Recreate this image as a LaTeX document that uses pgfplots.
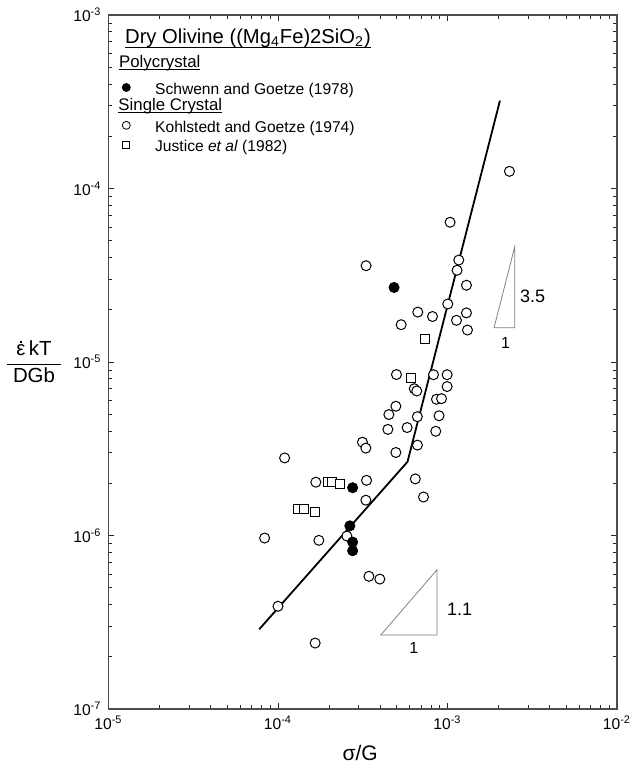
\documentclass[border=0pt]{standalone}
\usepackage{fontspec}
\setmainfont{Liberation Sans}
\usepackage{pgfplots}
\pgfplotsset{compat=1.18}
\pgfplotsset{legmark/.style={legend image code/.code={\path (0pt,-5pt) (20pt,5pt); \draw[##1] plot coordinates {(8.5pt,#1)};}}}
\newcommand\ul[2][1.2pt]{\setbox0=\hbox{#2}\rlap{\rule[-#1]{\wd0}{0.5pt}}\box0}
\begin{document}
\begin{tikzpicture}
\begin{axis}[
  at={(0pt,0pt)}, anchor=south west,
  scale only axis, width=254.25pt, height=347pt,
  xmode=log, ymode=log,
  xmin=1e-5, xmax=1e-2, ymin=1e-7, ymax=1e-3,
  log number format basis/.code 2 args={10\textsuperscript{\pgfmathprintnumber[assume math mode=true]{#2}}},
  tick align=inside,
  major tick length=3pt, minor tick length=1.8pt,
  tick style={black!85, line width=0.4pt},
  axis line style={black!70, line width=0.6pt},
  tick label style={font=\fontsize{7.8}{9}\selectfont},
  xlabel={σ/G},
  xlabel style={font=\fontsize{10.5}{12}\selectfont, at={(axis description cs:0.495,0)}, anchor=center, yshift=-22pt},
  ylabel={$\displaystyle\frac{\mbox{\ooalign{ε\cr\hidewidth\raisebox{0.6em}{\rule{0.12em}{0.12em}}\hidewidth\cr}\,kT}}{\mbox{\hspace{3pt}DGb\hspace{3pt}}}$},
  every axis y label/.style={at={(axis description cs:0,0.5)}, anchor=center, xshift=-37.25pt, font=\fontsize{10.2}{12}\selectfont},
  legend style={draw=none, fill=none, at={(axis description cs:0,1)}, anchor=north west,
    xshift=0pt, yshift=-5.85pt, font=\fontsize{7.8}{9}\selectfont,
    row sep=0pt, column sep=2.75pt, inner sep=0pt, nodes={inner sep=0pt}},
  legend cell align=left,
]
\addlegendimage{empty legend}
\addlegendentry{\rule[-2.5pt]{0pt}{10.5pt}\hspace*{-15pt}\smash{\fontsize{10.1}{11}\selectfont\ul[2.3pt]{Dry Olivine ((Mg\textsubscript{4}Fe)2SiO\textsubscript{2})}}}
\addlegendimage{empty legend}
\addlegendentry{\rule[-2.5pt]{0pt}{13pt}\hspace*{-18pt}\smash{\fontsize{8.4}{10}\selectfont\ul{Polycrystal}}}
\addlegendimage{mark=*, mark size=2pt, black, legmark=-1.9pt}
\addlegendentry{\rule[-2.5pt]{0pt}{14.6pt}Schwenn and Goetze (1978)}
\addlegendimage{empty legend}
\addlegendentry{\rule[-2.5pt]{0pt}{9.2pt}\hspace*{-18.35pt}\smash{\fontsize{8.4}{10}\selectfont\ul{Single Crystal}}}
\addlegendimage{mark=*, mark size=2pt, draw=black, fill=white, legmark=-0.45pt}
\addlegendentry{\rule[-2.5pt]{0pt}{11.7pt}Kohlstedt and Goetze (1974)}
\addlegendimage{mark=square, mark size=1.8pt, black, legmark=0.5pt}
\addlegendentry{\rule[-2.5pt]{0pt}{9.8pt}Justice \textit{et al} (1982)}

% fitted line
\addplot[black, line width=0.9pt, forget plot] coordinates {(7.75e-5,2.88e-7) (5.81e-4,2.66e-6) (2.04e-3,3.21e-4)};

% Kohlstedt and Goetze (1974)
\addplot[only marks, mark=*, mark size=2.5pt, mark options={draw=black, fill=white, line width=0.5pt}, forget plot] coordinates {
(2.32e-3,1.256e-4) (1.036e-3,6.39e-5) (3.31e-4,3.59e-5) (1.166e-3,3.87e-5) (1.139e-3,3.38e-5)
(1.294e-3,2.77e-5) (1.004e-3,2.16e-5) (6.68e-4,1.94e-5) (8.16e-4,1.83e-5) (1.294e-3,1.92e-5)
(1.130e-3,1.739e-5) (1.312e-3,1.529e-5) (5.33e-4,1.641e-5) (5.00e-4,8.47e-6) (8.27e-4,8.45e-6)
(9.95e-4,8.45e-6) (9.95e-4,7.22e-6) (6.37e-4,7.02e-6) (6.59e-4,6.81e-6) (8.61e-4,6.10e-6)
(9.22e-4,6.15e-6) (4.96e-4,5.56e-6) (4.51e-4,4.98e-6) (6.64e-4,4.84e-6) (8.92e-4,4.90e-6)
(4.45e-4,4.09e-6) (5.78e-4,4.19e-6) (8.53e-4,3.99e-6) (3.15e-4,3.45e-6) (3.30e-4,3.19e-6)
(6.65e-4,3.32e-6) (4.96e-4,3.01e-6) (1.094e-4,2.80e-6) (6.46e-4,2.12e-6) (3.33e-4,2.08e-6)
(1.673e-4,2.03e-6) (3.30e-4,1.598e-6) (7.22e-4,1.667e-6) (2.55e-4,9.93e-7) (8.34e-5,9.67e-7)
(1.743e-4,9.38e-7) (3.44e-4,5.82e-7) (3.99e-4,5.61e-7) (1.0e-4,3.91e-7) (1.657e-4,2.40e-7)
};

% Justice et al (1982)
\addplot[only marks, mark=square*, mark size=2.2pt, mark options={draw=black, fill=white, line width=0.5pt}, forget plot] coordinates {
(7.40e-4,1.357e-5) (6.09e-4,8.07e-6) (1.961e-4,2.03e-6) (2.087e-4,2.03e-6) (2.317e-4,1.98e-6)
(1.319e-4,1.421e-6) (1.417e-4,1.421e-6) (1.655e-4,1.36e-6)
};

% Schwenn and Goetze (1978)
\addplot[only marks, mark=*, mark size=2.5pt, mark options={draw=black, fill=black, line width=0.5pt}, forget plot] coordinates {
(4.84e-4,2.69e-5) (2.757e-4,1.886e-6) (2.654e-4,1.137e-6) (2.757e-4,9.17e-7) (2.757e-4,8.17e-7)
};

% slope triangles
\draw[gray, line width=0.4pt] (axis cs:4.04e-4,2.67e-7) -- (axis cs:8.68e-4,2.67e-7) -- (axis cs:8.68e-4,6.35e-7) -- cycle;
\node[anchor=west, inner sep=0pt, font=\fontsize{9}{10}\selectfont] at (axis cs:9.9e-4,3.77e-7) {1.1};
\node[inner sep=0pt, font=\fontsize{8}{10}\selectfont] at (axis cs:6.33e-4,2.24e-7) {1};
\draw[gray, line width=0.4pt] (axis cs:1.883e-3,1.577e-5) -- (axis cs:2.494e-3,1.577e-5) -- (axis cs:2.494e-3,4.62e-5) -- cycle;
\node[anchor=west, inner sep=0pt, font=\fontsize{9}{10}\selectfont] at (axis cs:2.67e-3,2.38e-5) {3.5};
\node[inner sep=0pt, font=\fontsize{8}{10}\selectfont] at (axis cs:2.20e-3,1.28e-5) {1};
\end{axis}
\pgfresetboundingbox
\path[use as bounding box] (-54.25pt,-29.5pt) rectangle (261.25pt,354.5pt);
\end{tikzpicture}
\end{document}
